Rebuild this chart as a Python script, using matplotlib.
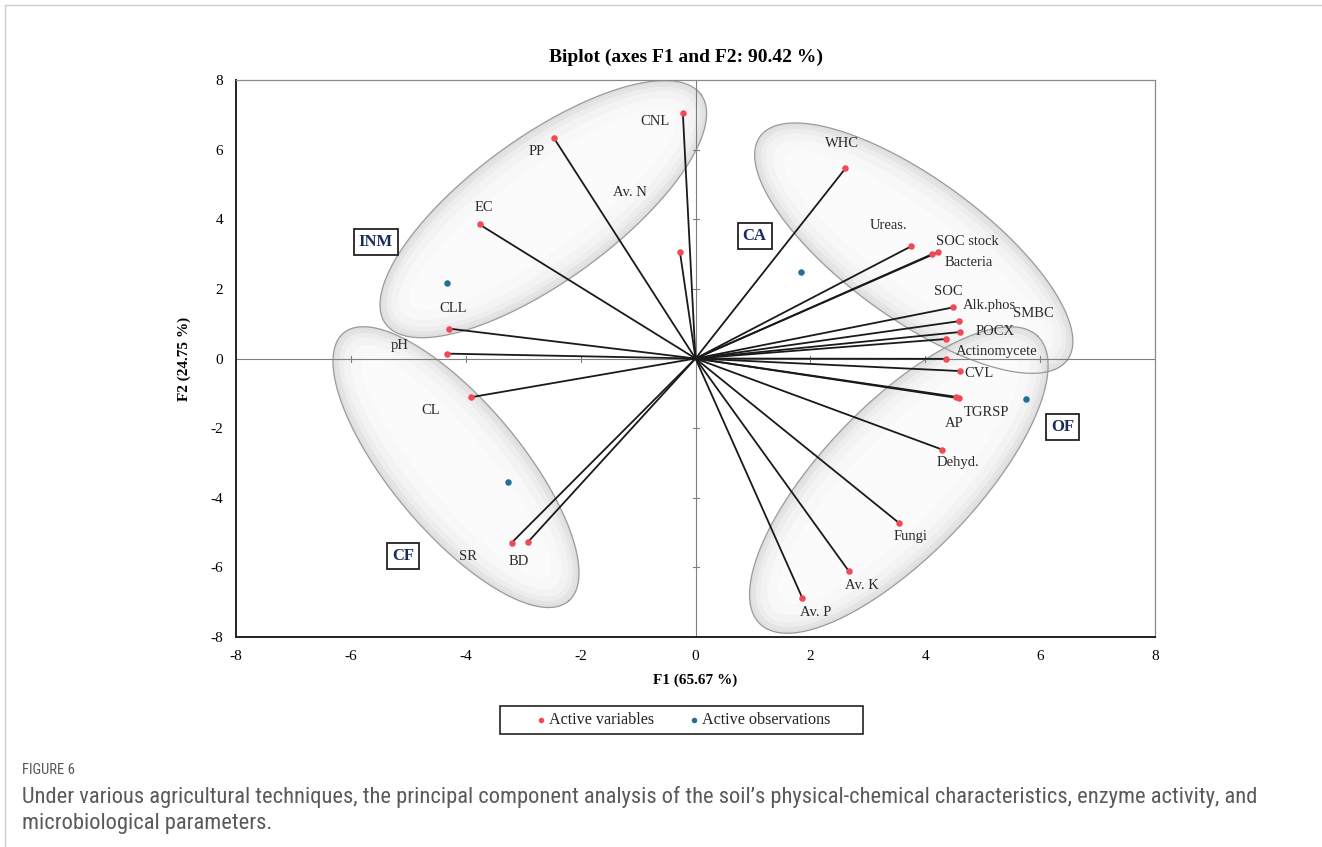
import numpy as np
import matplotlib
matplotlib.use("Agg")
import matplotlib.pyplot as plt
from matplotlib.patches import Polygon, Rectangle
from matplotlib import font_manager as fm

# ---------------- data ----------------
var_names = ["CNL", "PP", "Av. N", "EC", "CLL", "pH", "CL", "SR", "BD",
             "WHC", "Ureas.", "SOC stock", "Bacteria", "SOC", "Alk.phos", "SMBC",
             "POCX", "Actinomycete", "CVL", "AP", "TGRSP", "Dehyd.", "Fungi",
             "Av. K", "Av. P"]
var_f1 = [-0.22, -2.46, -0.27, -3.76, -4.30, -4.32, -3.90, -3.20, -2.91,
          2.61, 3.75, 4.11, 4.22, 4.49, 4.58, 4.60,
          4.36, 4.36, 4.60, 4.53, 4.58, 4.30, 3.54,
          2.67, 1.86]
var_f2 = [7.04, 6.32, 3.05, 3.85, 0.86, 0.14, -1.11, -5.29, -5.26,
          5.46, 3.22, 2.99, 3.05, 1.47, 1.07, 0.76,
          0.56, -0.01, -0.36, -1.10, -1.14, -2.62, -4.72,
          -6.11, -6.88]

obs_names = ["INM", "CA", "CF", "OF"]
obs_f1 = [-4.32, 1.83, -3.27, 5.75]
obs_f2 = [2.18, 2.48, -3.55, -1.17]

title = "Biplot (axes F1 and F2: 90.42 %)"
xlabel = "F1 (65.67 %)"
ylabel = "F2 (24.75 %)"
ticks = [-8, -6, -4, -2, 0, 2, 4, 6, 8]
legend_labels = ["Active variables", "Active observations"]
caption_head = "FIGURE 6"
caption_lines = ["Under various agricultural techniques, the principal component analysis of the soil\u2019s physical-chemical characteristics, enzyme activity, and",
                 "microbiological parameters."]

# ---------------- layout / style ----------------
label_off = {
    "CNL": (-28, -8), "PP": (-17, -13), "Av. N": (-50, 60), "EC": (4, 17),
    "CLL": (5, 20), "pH": (-48, 8), "CL": (-41, -13), "SR": (-44, -14),
    "BD": (-10, -20), "WHC": (-3, 25), "Ureas.": (-22, 21),
    "SOC stock": (36, 13), "Bacteria": (31, -10), "SOC": (-5, 16),
    "Alk.phos": (31, 16), "SMBC": (74, 19), "POCX": (49, 8),
    "Actinomycete": (51, 7), "CVL": (19, -2), "AP": (-1, -27),
    "TGRSP": (28, -14), "Dehyd.": (16, -13), "Fungi": (12, -14),
    "Av. K": (13, -14), "Av. P": (13, -14),
}
group_box_pos = {"INM": (-5.57, 3.36), "CA": (1.03, 3.53),
                 "CF": (-5.09, -5.66), "OF": (6.39, -1.98)}
# ellipse: center (data), semi-axes (px), angle (deg, screen)
ellipses = [((-2.65, 4.29), 195, 72, 36),
            ((3.80, 3.17), 190, 70, -36),
            ((-4.17, -3.12), 175, 65, -50),
            ((3.54, -3.49), 200, 76, 46)]

W, H = 1322, 847
fig = plt.figure(figsize=(W / 100, H / 100), dpi=100)
ax_l, ax_r, ax_t, ax_b = 236, 1155, 80, 637
ax = fig.add_axes([ax_l / W, 1 - ax_b / H, (ax_r - ax_l) / W, (ax_b - ax_t) / H])
ax.set_xlim(-8, 8)
ax.set_ylim(-8, 8)
kx = (ax_r - ax_l) / 16.0
ky = (ax_b - ax_t) / 16.0

serif = "Liberation Serif"
red = "#ef4a55"
blue = "#22719a"

# ellipses with soft shading toward the rim
phi = np.linspace(0, 2 * np.pi, 300)
rings = [(0, "#dadada"), (3, "#e6e6e6"), (7, "#efefef"), (12, "#f5f5f5"), (20, "#f9f9f9"), (32, "#fcfcfc")]
for (cx, cy), a, b, ang in ellipses:
    th = np.deg2rad(ang)
    for d, col in rings:
        aa, bb = a - d, b - d
        px = aa * np.cos(phi) * np.cos(th) - bb * np.sin(phi) * np.sin(th)
        py = aa * np.cos(phi) * np.sin(th) + bb * np.sin(phi) * np.cos(th)
        pts = np.column_stack([cx + px / kx, cy + py / ky])
        ax.add_patch(Polygon(pts, closed=True, facecolor=col, alpha=0.85,
                             edgecolor="none", zorder=1))
for (cx, cy), a, b, ang in ellipses:
    th = np.deg2rad(ang)
    px = a * np.cos(phi) * np.cos(th) - b * np.sin(phi) * np.sin(th)
    py = a * np.cos(phi) * np.sin(th) + b * np.sin(phi) * np.cos(th)
    ax.plot(cx + px / kx, cy + py / ky, color="#9a9a9a", lw=0.9, zorder=2)

# zero lines with small ticks
ax.axhline(0, color="#7f7f7f", lw=0.8, zorder=2)
ax.axvline(0, color="#7f7f7f", lw=0.8, zorder=2)
for t in ticks:
    if t in (-8, 0, 8):
        continue
    ax.plot([-3 / kx, 3 / kx], [t, t], color="#7f7f7f", lw=0.8, zorder=2)
    ax.plot([t, t], [-3 / ky, 3 / ky], color="#7f7f7f", lw=0.8, zorder=2)

# vectors
for x, y in zip(var_f1, var_f2):
    ax.plot([0, x], [0, y], color="#1a1a1a", lw=1.3, zorder=3)
ax.scatter(var_f1, var_f2, s=22, color=red, zorder=4, linewidths=0)
ax.scatter(obs_f1, obs_f2, s=22, color=blue, zorder=4, linewidths=0)

for n, x, y in zip(var_names, var_f1, var_f2):
    dx, dy = label_off[n]
    ax.annotate(n, (x, y), xytext=(dx, dy), textcoords="offset pixels",
                ha="center", va="center", fontsize=10.5, family=serif,
                color="#2a2a2a", zorder=5)

for n in obs_names:
    x, y = group_box_pos[n]
    ax.text(x, y, n, ha="center", va="center", fontsize=12, family=serif,
            fontweight="bold", color="#1b2a5e", zorder=5,
            bbox=dict(boxstyle="square,pad=0.3", fc="white", ec="#222222", lw=1.3))

# spines / ticks
for s in ["left", "bottom"]:
    ax.spines[s].set_color("#222222")
    ax.spines[s].set_linewidth(1.4)
for s in ["top", "right"]:
    ax.spines[s].set_color("#8a8a8a")
    ax.spines[s].set_linewidth(0.9)
ax.set_xticks(ticks)
ax.set_yticks(ticks)
ax.set_xticklabels([str(t) for t in ticks])
ax.set_yticklabels([str(t) for t in ticks])
ax.tick_params(length=0, pad=9, labelsize=11)
for lab in ax.get_xticklabels() + ax.get_yticklabels():
    lab.set_family(serif)

fig.text(686 / W, 1 - 57 / H, title, fontsize=14, fontweight="bold", family=serif,
         ha="center", va="center")
ax.set_xlabel(xlabel, fontsize=11, fontweight="bold", family=serif, labelpad=8)
ax.set_ylabel(ylabel, fontsize=11, fontweight="bold", family=serif, labelpad=14)

# legend (drawn manually to match the boxed layout)
fig.add_artist(Rectangle((500 / W, 1 - 734 / H), 363 / W, 28 / H, transform=fig.transFigure,
                         fill=False, ec="#222222", lw=1.2))
for xd, xt, col, lab in [(541, 549, red, legend_labels[0]), (694, 702, blue, legend_labels[1])]:
    fig.add_artist(plt.Line2D([xd / W], [1 - 720 / H], marker="o", ms=4, color=col,
                              mec="none", transform=fig.transFigure))
    fig.text(xt / W, 1 - 720 / H, lab, fontsize=11.6, family=serif, color="#222222",
             ha="left", va="center")

# caption: pick a narrow sans if available
names = {f.name for f in fm.fontManager.ttflist}
cap_family = "Open Sans"
for cand in ["Liberation Sans Narrow", "Roboto Condensed", "Open Sans Condensed", "Roboto"]:
    if cand in names:
        cap_family = cand
        break
fig.text(22 / W, 1 - 770 / H, caption_head, fontsize=10.5, family=cap_family,
         color="#555555", va="center", ha="left")
t1 = fig.text(22 / W, 1 - 797 / H, caption_lines[0], fontsize=12.3, family=cap_family,
              color="#5a5a5a", va="center", ha="left")
t2 = fig.text(22 / W, 1 - 823 / H, caption_lines[1], fontsize=12.3, family=cap_family,
              color="#5a5a5a", va="center", ha="left")
r = fig.canvas.get_renderer()
wcur = t1.get_window_extent(r).width
fs = 12.3 * (1233.0 / wcur)
t1.set_fontsize(fs)
t2.set_fontsize(fs)

fig.add_artist(plt.Line2D([5 / W, 5 / W], [0, 1 - 5 / H], color="#cccccc", lw=1.0))
fig.add_artist(plt.Line2D([5 / W, 1], [1 - 5 / H, 1 - 5 / H], color="#cccccc", lw=1.0))

fig.savefig("out.png", dpi=100)
